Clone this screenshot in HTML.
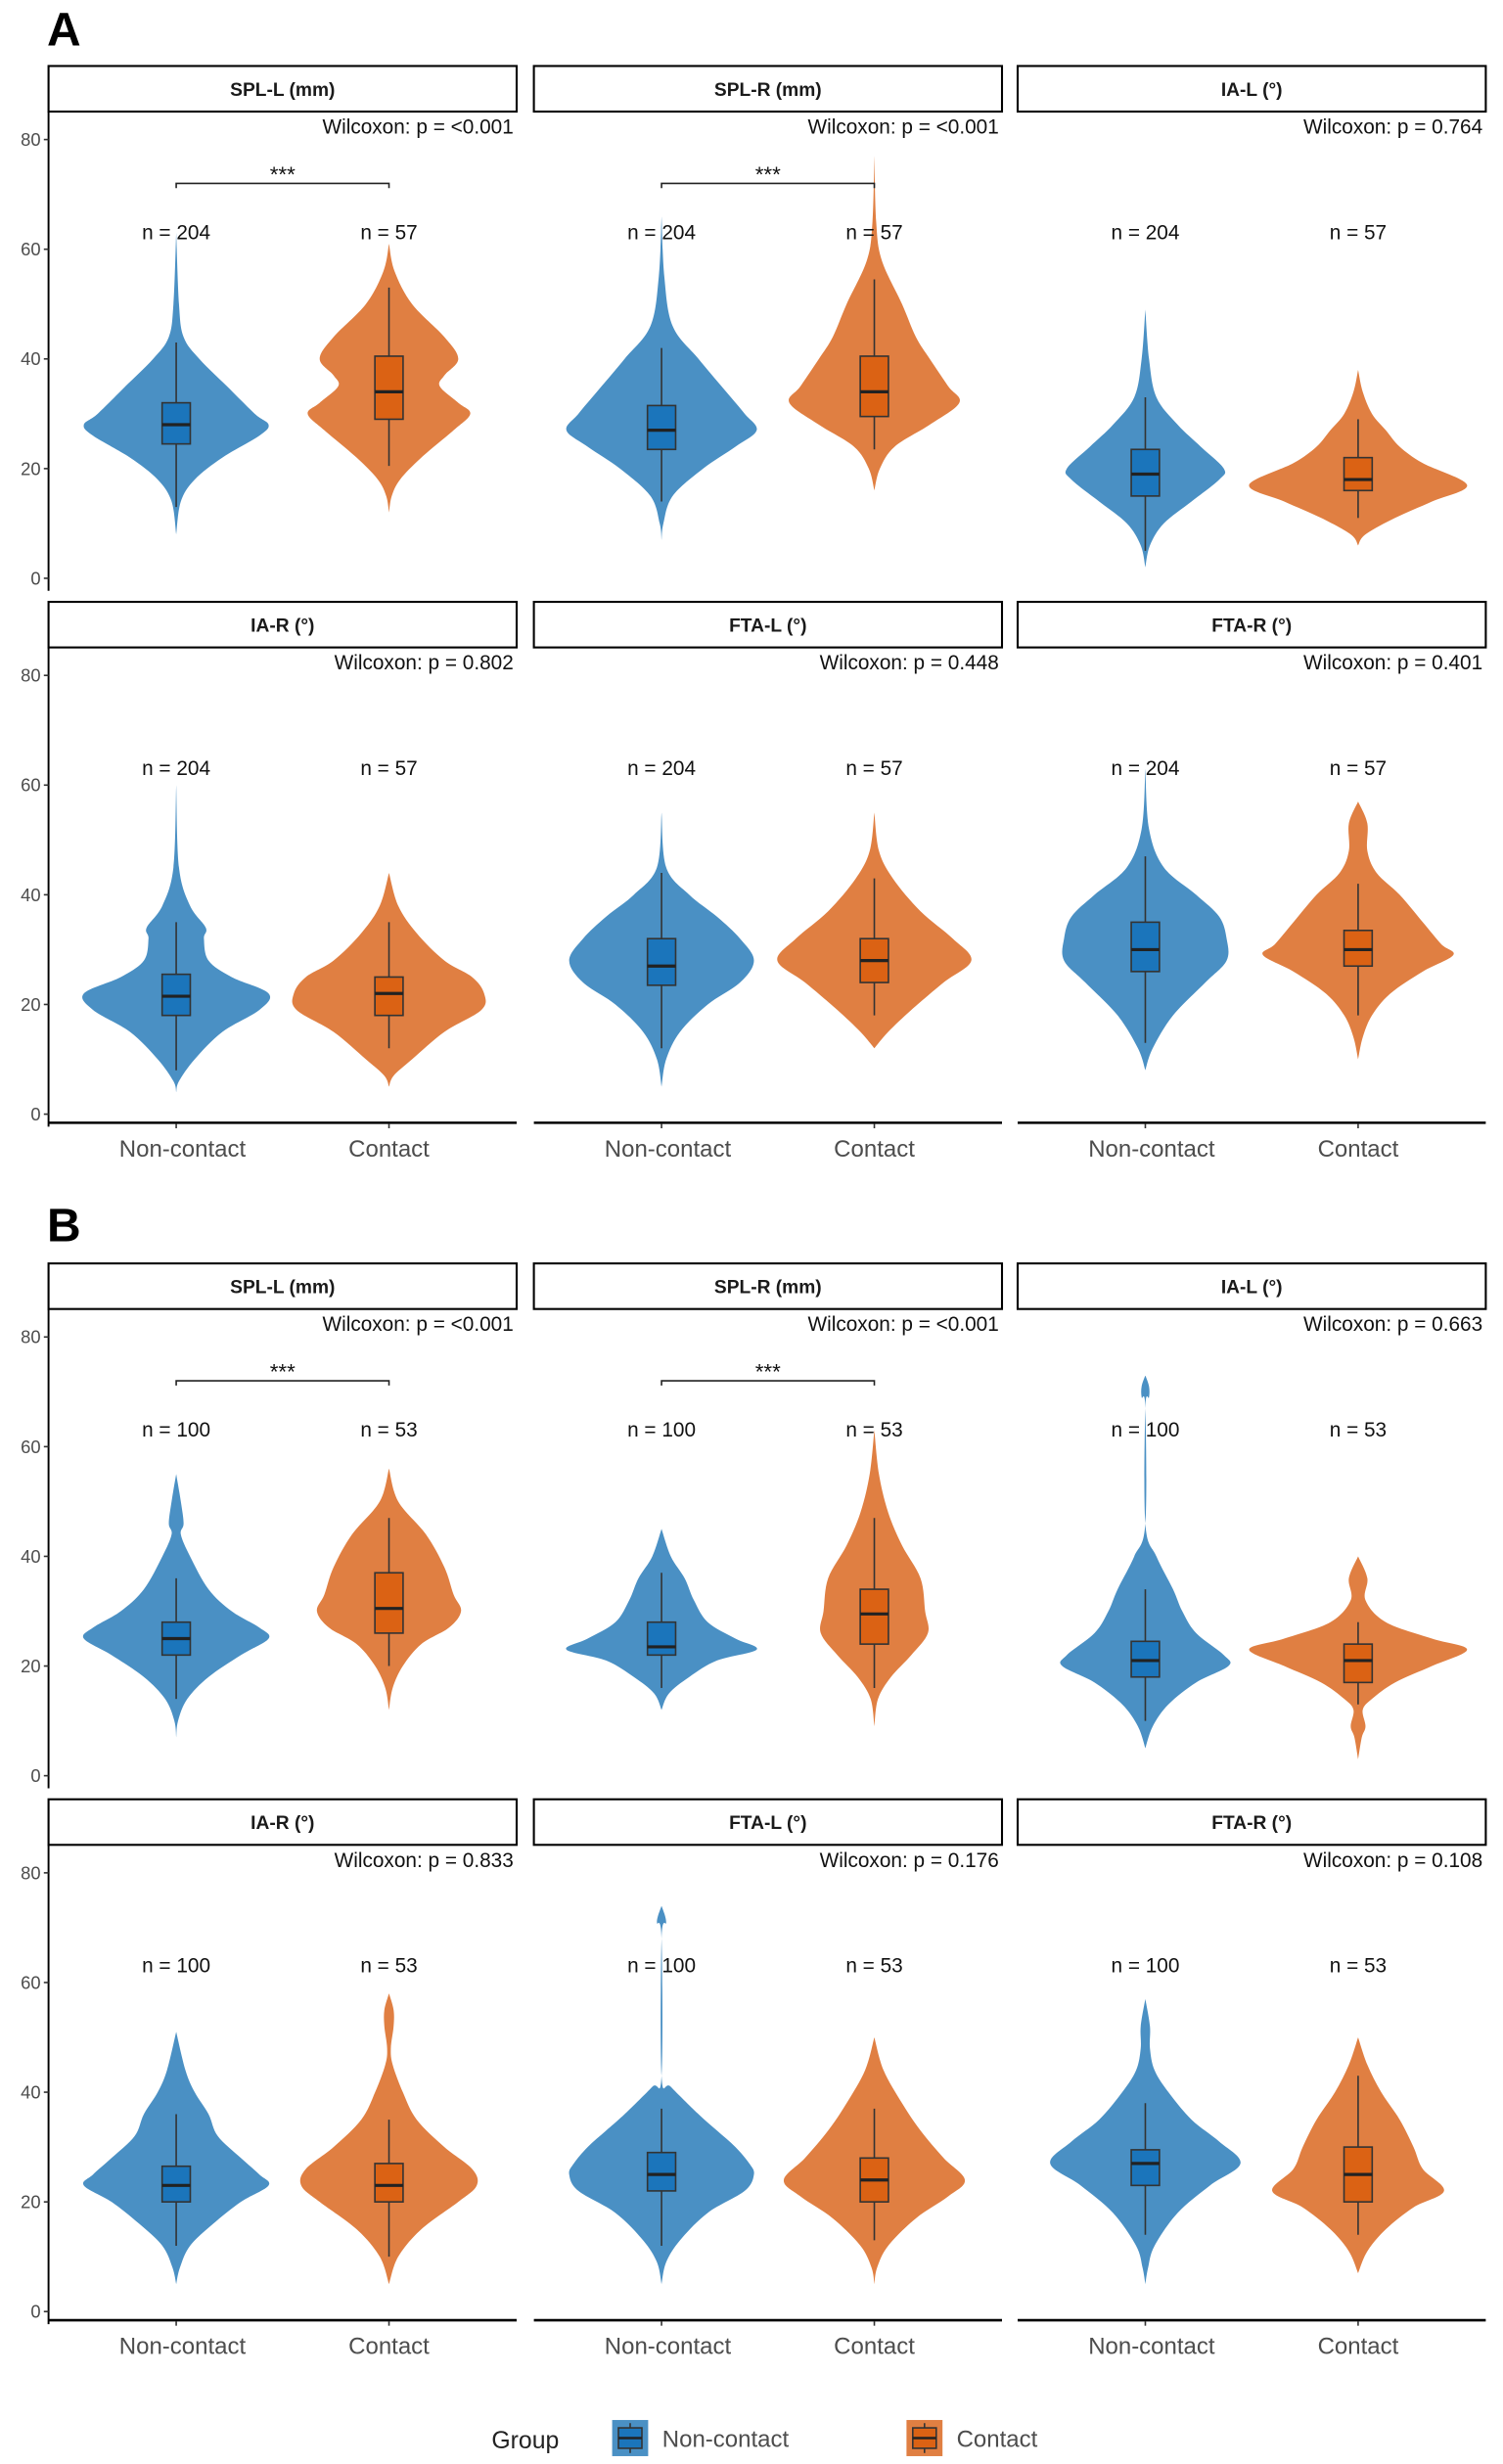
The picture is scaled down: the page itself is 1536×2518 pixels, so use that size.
<!DOCTYPE html>
<html><head><meta charset="utf-8"><style>
html,body{margin:0;padding:0;background:#fff;}
svg{display:block;font-family:"Liberation Sans",sans-serif;}
</style></head><body>
<svg id="chart" width="1536" height="2518" viewBox="0 0 960 1568" preserveAspectRatio="none" xmlns="http://www.w3.org/2000/svg"></svg>
<script>
const panelTitles = ["SPL-L (mm)","SPL-R (mm)","IA-L (°)","IA-R (°)","FTA-L (°)","FTA-R (°)"];
const categories = ["Non-contact","Contact"];
const pValuesA = ["<0.001","<0.001","0.764","0.802","0.448","0.401"];
const pValuesB = ["<0.001","<0.001","0.663","0.833","0.176","0.108"];
const nA = [204,57];
const nB = [100,53];
const sigA = [true,true,false,false,false,false];
const sigB = [true,true,false,false,false,false];
const yTicks = [0,20,40,60,80];

const valsA = [
 [[63,50,44,40,35,30,28,26,22,18,14,8],[61,56,50,44,40,37,35,32,30,27,22,18,15,12]],
 [[66,55,46,40,34,30,27,24,20,15,10,7],[77,65,58,50,44,40,35,32,28,24,20,16]],
 [[49,40,33,28,24,20,18,14,10,6,2],[38,34,30,27,24,21,17,14,11,8,6]],
 [[60,45,38,34,32,28,25,22,19,15,10,6,4],[44,38,33,28,25,22,19,15,10,7,5]],
 [[55,45,40,36,32,28,24,20,15,10,5],[55,48,43,37,32,28,24,19,15,12]],
 [[63,52,45,40,36,32,28,24,18,12,8],[57,53,48,44,40,35,31,29,26,22,18,14,10]]
];
const densA = [
 [[0,.03,.08,.25,.55,.85,1,.9,.5,.2,.05,0],[0,.06,.25,.6,.75,.6,.55,.75,.88,.7,.35,.12,.03,0]],
 [[0,.03,.12,.4,.7,.9,1.03,.8,.45,.12,.02,0],[0,.02,.08,.3,.45,.6,.8,.92,.6,.22,.06,0]],
 [[0,.04,.12,.35,.6,.85,.8,.5,.2,.05,0],[0,.05,.15,.3,.45,.7,1.18,.8,.4,.08,0]],
 [[0,.03,.15,.32,.3,.35,.6,1,.9,.5,.2,.03,0],[0,.1,.3,.6,.9,1.03,1,.6,.25,.05,0]],
 [[0,.05,.3,.6,.85,1,.85,.5,.2,.05,0],[0,.05,.2,.5,.85,1.05,.75,.4,.15,0]],
 [[0,.04,.2,.55,.8,.88,.88,.65,.3,.08,0],[0,.1,.1,.2,.45,.7,.9,1.03,.7,.35,.15,.05,0]]
];
const valsB = [
 [[55,50,46,44,40,34,30,27,25,22,18,14,10,7],[56,50,44,38,33,30,27,24,20,16,12]],
 [[45,40,36,32,28,25,23,21,18,15,12],[63,55,48,42,36,30,26,22,18,14,9]],
 [[73,71,69,67,46,40,34,30,26,22,20,17,13,9,5],[40,36,32,28,25,23,20,17,14,12,9,7,3]],
 [[51,44,40,36,32,28,25,23,20,16,12,8,5],[58,55,52,48,45,40,35,30,26,23,20,15,10,5]],
 [[74,71,68,43,41,36,33,30,27,25,22,18,13,9,5],[50,44,38,33,28,24,21,17,12,8,5]],
 [[57,52,48,44,40,35,31,27,23,18,12,8,5],[50,45,40,35,30,26,22,19,15,11,7]]
];
const densB = [
 [[0,.05,.08,.05,.15,.35,.6,.9,1,.7,.35,.12,.02,0],[0,.1,.4,.6,.7,.78,.65,.35,.15,.04,0]],
 [[0,.1,.25,.35,.5,.8,1.03,.6,.3,.08,0],[0,.05,.15,.3,.5,.55,.58,.4,.18,.04,0]],
 [[0,.04,.04,0,0,.12,.3,.4,.55,.85,.9,.55,.25,.08,0],[0,.1,.08,.3,.8,1.18,.8,.4,.15,.05,.08,.04,0]],
 [[0,.1,.2,.35,.45,.7,.9,1,.7,.4,.15,.04,0],[0,.05,.05,.02,.04,.15,.3,.6,.9,.95,.75,.35,.1,0]],
 [[0,.05,0,0,.1,.4,.6,.8,.95,1,.9,.5,.2,.05,0],[0,.1,.3,.5,.75,.98,.8,.45,.15,.03,0]],
 [[0,.05,.05,.1,.25,.5,.8,1.03,.7,.35,.1,.03,0],[0,.1,.25,.45,.6,.7,.93,.6,.3,.1,0]]
];
const boxA = [
 [[13,24.5,28,32,43],[20.5,29,34,40.5,53]],
 [[14,23.5,27,31.5,42],[23.5,29.5,34,40.5,54.5]],
 [[5,15,19,23.5,33],[11,16,18,22,29]],
 [[8,18,21.5,25.5,35],[12,18,22,25,35]],
 [[12,23.5,27,32,44],[18,24,28,32,43]],
 [[13,26,30,35,47],[18,27,30,33.5,42]]
];
const boxB = [
 [[14,22,25,28,36],[20,26,30.5,37,47]],
 [[16,22,23.5,28,37],[16,24,29.5,34,47]],
 [[10,18,21,24.5,34],[13,17,21,24,28]],
 [[12,20,23,26.5,36],[10,20,23,27,35]],
 [[12,22,25,29,37],[13,20,24,28,37]],
 [[14,23,27,29.5,38],[14,20,25,30,43]]
];

const NS="http://www.w3.org/2000/svg";
const svg=document.getElementById('chart');
function el(tag,attrs,parent){const e=document.createElementNS(NS,tag);for(const k in attrs)e.setAttribute(k,attrs[k]);(parent||svg).appendChild(e);return e;}
function txt(s,attrs,parent){const e=el('text',attrs,parent);e.textContent=s;return e;}

const colLeft=[31,341,650], panelW=299, stripH=29;
const blueV="#4a90c4", orangeV="#e07f42", blueB="#1b75bb", orangeB="#db6214";
const halfScale=59, boxHalf=9;

function smoothPath(pts){
  let d="M"+pts[0][0]+","+pts[0][1];
  for(let i=0;i<pts.length-1;i++){
    const p0=pts[Math.max(i-1,0)],p1=pts[i],p2=pts[i+1],p3=pts[Math.min(i+2,pts.length-1)];
    const c1=[p1[0]+(p2[0]-p0[0])/6,p1[1]+(p2[1]-p0[1])/6];
    const c2=[p2[0]-(p3[0]-p1[0])/6,p2[1]-(p3[1]-p1[1])/6];
    d+=" C"+c1[0].toFixed(2)+","+c1[1].toFixed(2)+" "+c2[0].toFixed(2)+","+c2[1].toFixed(2)+" "+p2[0].toFixed(2)+","+p2[1].toFixed(2);
  }
  return d;
}

function drawFigure(label,labelY,rowTops,titles,pvals,ns,sigs,vals,dens,boxes){
  const L=txt(label,{x:30,y:labelY,'font-size':30,'font-weight':'bold',fill:'#000'});
  
  
  for(let p=0;p<6;p++){
    const row=Math.floor(p/3), col=p%3;
    const x0=colLeft[col], top=rowTops[row];
    const zeroY=top+326, unit=3.49;
    const yS=v=>zeroY-v*unit;
    const xS=c=>x0+panelW*(c-0.4)/2.2;
    const g=el('g',{});
    
    
    const sr=el('rect',{x:x0,y:top,width:panelW,height:stripH,fill:'#fff',stroke:'#000','stroke-width':1.3},g);
    
    
    const st=txt(titles[p],{x:x0+panelW/2,y:top+19,'text-anchor':'middle','font-size':12,'font-weight':'bold',fill:'#1a1a1a'},g);
    
    
    const wt=txt("Wilcoxon: p = "+pvals[p],{x:x0+panelW-2,y:top+43,'text-anchor':'end','font-size':13,fill:'#111'},g);
    
    
    if(col===0){
      const ya=el('line',{x1:x0,y1:top+stripH,x2:x0,y2:zeroY+8,stroke:'#000','stroke-width':1.2},g);
      
      
      yTicks.forEach(t=>{
        const tk=el('line',{x1:x0-3,y1:yS(t),x2:x0,y2:yS(t),stroke:'#333','stroke-width':1},g);
        
        
        const tl=txt(String(t),{x:x0-5,y:yS(t)+4,'text-anchor':'end','font-size':11.5,fill:'#4d4d4d'},g);
        
        
      });
    }
    if(row===1){
      const xa=el('line',{x1:x0,y1:zeroY+5.5,x2:x0+panelW,y2:zeroY+5.5,stroke:'#000','stroke-width':1.6},g);
      
      
      categories.forEach((c,i)=>{
        const tk=el('line',{x1:xS(i+1),y1:zeroY+6,x2:xS(i+1),y2:zeroY+9,stroke:'#333','stroke-width':1},g);
        
        
        const tl=txt(c,{x:xS(i+1)+(i===0?4:0),y:zeroY+27,'text-anchor':'middle','font-size':15,fill:'#4d4d4d'},g);
        
        
      });
    }
    for(let gi=0;gi<2;gi++){
      const cx=xS(gi+1), v=vals[p][gi], d=dens[p][gi];
      const right=v.map((val,i)=>[cx+d[i]*halfScale,yS(val)]);
      const left=v.map((val,i)=>[cx-d[i]*halfScale,yS(val)]).reverse();
      const path=smoothPath(right)+" L"+smoothPath(left).slice(1)+" Z";
      const vp=el('path',{d:path,fill:gi===0?blueV:orangeV,stroke:'none'},g);
      
      
      const b=boxes[p][gi];
      const wl=el('line',{x1:cx,y1:yS(b[0]),x2:cx,y2:yS(b[4]),stroke:'#333','stroke-width':1},g);
      
      
      const br=el('rect',{x:cx-boxHalf,y:yS(b[3]),width:boxHalf*2,height:yS(b[1])-yS(b[3]),fill:gi===0?blueB:orangeB,stroke:'#333','stroke-width':1},g);
      
      
      const md=el('line',{x1:cx-boxHalf,y1:yS(b[2]),x2:cx+boxHalf,y2:yS(b[2]),stroke:'#222','stroke-width':2},g);
      
      
      const nl=txt("n = "+ns[gi],{x:cx,y:yS(63)+4,'text-anchor':'middle','font-size':13,fill:'#111'},g);
      
      
    }
    if(sigs[p]){
      const by=yS(72), a=xS(1), b2=xS(2);
      const br=el('path',{d:`M${a},${by+3} L${a},${by} L${b2},${by} L${b2},${by+3}`,fill:'none',stroke:'#222','stroke-width':1},g);
      
      
      const sg=txt("***",{x:(a+b2)/2,y:by-1,'text-anchor':'middle','font-size':14,fill:'#111'},g);
      
      
    }
  }
}
drawFigure("A",29,[42,383],panelTitles,pValuesA,nA,sigA,valsA,densA,boxA);
drawFigure("B",790,[804,1145],panelTitles,pValuesB,nB,sigB,valsB,densB,boxB);

const lg=el('g',{});


const lt=txt("Group",{x:314,y:1558,'font-size':15.5,fill:'#222'},lg);


[[391,423,blueV,blueB,"Non-contact"],[579,611,orangeV,orangeB,"Contact"]].forEach(e=>{
  const k=el('g',{},lg);
  
  
  el('rect',{x:e[0],y:1540,width:23,height:23,fill:e[2]},k);
  el('line',{x1:e[0]+11.5,y1:1542,x2:e[0]+11.5,y2:1561,stroke:'#333','stroke-width':1},k);
  el('rect',{x:e[0]+4,y:1545,width:15,height:13,fill:e[3],stroke:'#333','stroke-width':1},k);
  el('line',{x1:e[0]+4,y1:1551.5,x2:e[0]+19,y2:1551.5,stroke:'#222','stroke-width':1.6},k);
  const t=txt(e[4],{x:e[1],y:1557,'font-size':15,fill:'#4d4d4d'},k);
  
  
});
</script>
</body></html>
